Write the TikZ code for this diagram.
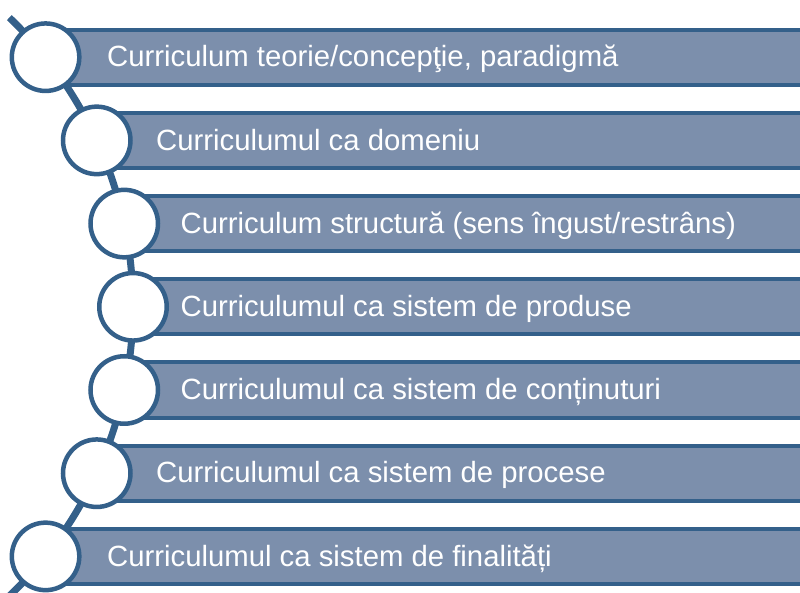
\documentclass[tikz,border=0pt]{standalone}
\usepackage{fontspec}
\setmainfont{Liberation Sans}
\usepackage{xcolor}
\usetikzlibrary{calc,
	positioning}

\definecolor{barfill}{RGB}{124,143,172}
\definecolor{bardark}{RGB}{52,96,138}

\tikzset{
	barbox/.style={rectangle, draw=bardark, fill=barfill, line width=4pt, minimum height=55.3pt, inner sep=0pt, anchor=west},
	ringnode/.style={circle, draw=bardark, fill=white, line width=4.5pt, minimum size=67.5pt, inner sep=0pt},
	bartext/.style={anchor=base west, inner sep=0pt, yshift=-9.8pt, text=white, font=\fontsize{29.3}{34}\selectfont},
	spine/.style={draw=bardark, line width=7pt}
}

\begin{document}
\begin{tikzpicture}[x=1pt,y=1pt]
	\useasboundingbox (0,0) rectangle (800,593);
	\clip (0,0) rectangle (800,593);
	\coordinate (hub) at (-267,286.2);
	\path (hub) ++(46.3:400) coordinate (spinetop);
	\draw[spine] (spinetop) arc[start angle=46.3, end angle=-46.3, radius=400];
	\foreach \idx in {1,2,...,7} {
		\pgfmathsetmacro{\dy}{(4-\idx)*83.2}
		\pgfmathsetmacro{\cx}{-267+100*sqrt(16-(\dy/100)^2)}
		\node[barbox, minimum width=830-\cx] (bar\idx) at (\cx, 286.2+\dy) {};
		\node[ringnode] (ring\idx) at (\cx, 286.2+\dy) {};
	}
	\node[bartext] (txt1) at (107,0 |- bar1) {Curriculum teorie/concepţie, paradigmă};
	\node[bartext] (txt2) at (156,0 |- bar2) {Curriculumul ca domeniu};
	\node[bartext] (txt3) at (180.5,0 |- bar3) {Curriculum structură (sens îngust/restrâns)};
	\node[bartext] (txt4) at (180.5,0 |- bar4) {Curriculumul ca sistem de produse};
	\node[bartext] (txt5) at (180.5,0 |- bar5) {Curriculumul ca sistem de conținuturi};
	\node[bartext] (txt6) at (156,0 |- bar6) {Curriculumul ca sistem de procese};
	\node[bartext] (txt7) at (107,0 |- bar7) {Curriculumul ca sistem de finalități};
\end{tikzpicture}
\end{document}
